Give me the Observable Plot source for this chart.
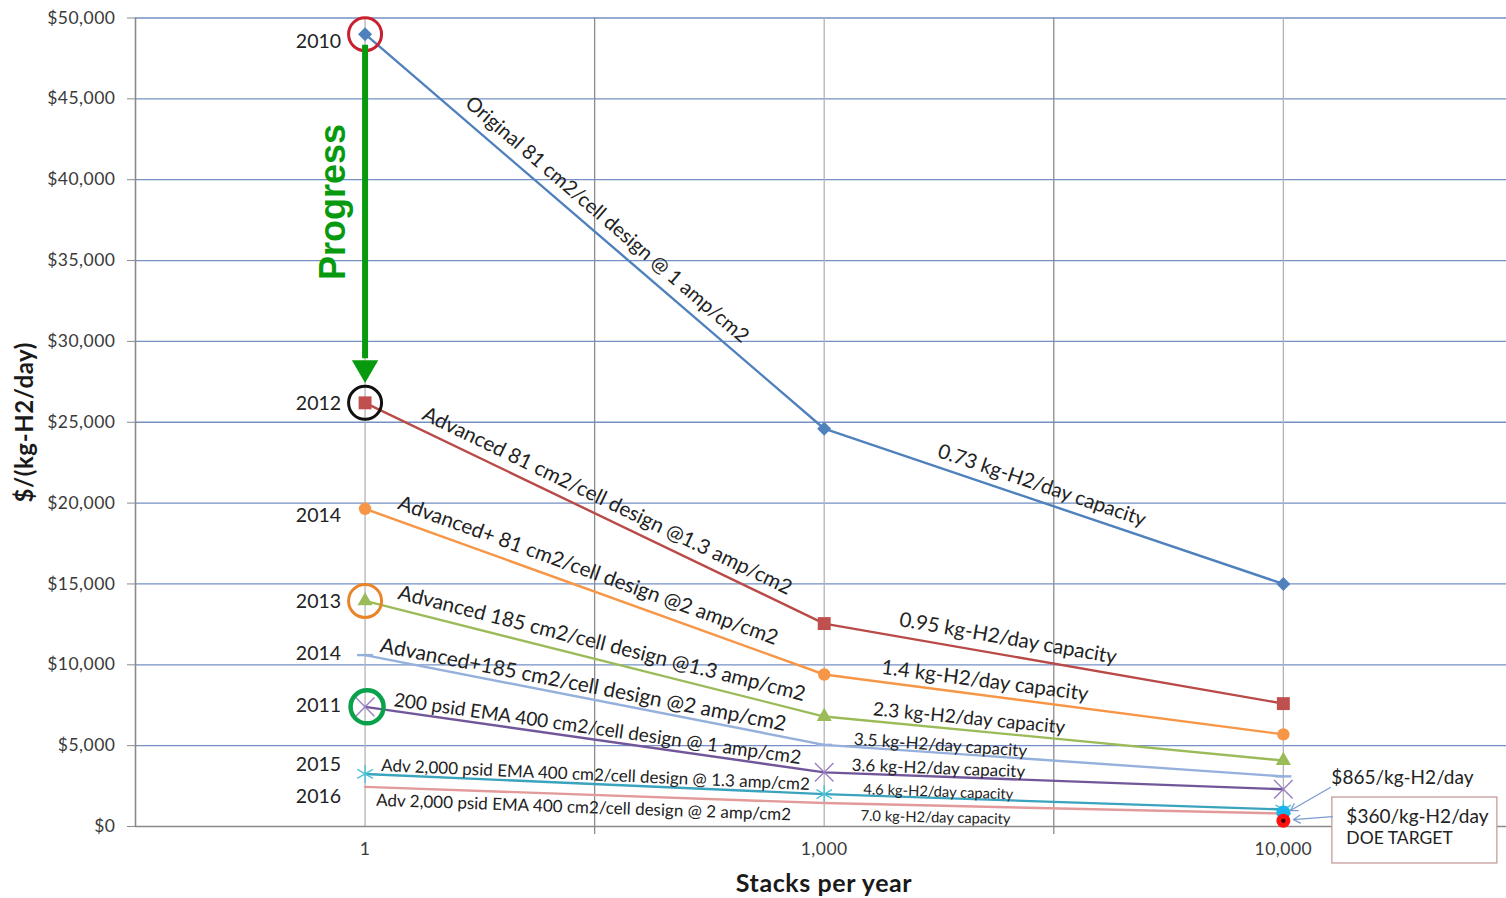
<!DOCTYPE html>
<html>
<head>
<meta charset="utf-8">
<script src="https://cdn.jsdelivr.net/npm/d3@7"></script>
<script src="https://cdn.jsdelivr.net/npm/@observablehq/plot@0.6"></script>
<style>
  html, body { margin: 0; padding: 0; background: #fff; }
  #chart { position: absolute; left: 0; top: 0; }
  #chart svg { overflow: visible; }
</style>
</head>
<body>
<div id="chart"></div>
<script>
// Production volumes (categories on the x axis)
const stackLabels = ["1", "1,000", "10,000"];

// Stack designs, the year each was reached, and the capacity of each stack
const seriesNames = [
  "Original 81 cm2/cell design @ 1 amp/cm2",
  "Advanced 81 cm2/cell design @1.3 amp/cm2",
  "Advanced+ 81 cm2/cell design @2 amp/cm2",
  "Advanced 185 cm2/cell design @1.3 amp/cm2",
  "Advanced+185 cm2/cell design @2 amp/cm2",
  "200 psid EMA 400 cm2/cell design @ 1 amp/cm2",
  "Adv 2,000 psid EMA 400 cm2/cell design @ 1.3 amp/cm2",
  "Adv 2,000 psid EMA 400 cm2/cell design @ 2 amp/cm2"
];
const seriesYears = ["2010", "2012", "2014", "2013", "2014", "2011", "2015", "2016"];
const capacityLabels = [
  "0.73 kg-H2/day capacity",
  "0.95 kg-H2/day capacity",
  "1.4 kg-H2/day capacity",
  "2.3 kg-H2/day capacity",
  "3.5 kg-H2/day capacity",
  "3.6 kg-H2/day capacity",
  "4.6 kg-H2/day capacity",
  "7.0 kg-H2/day capacity"
];

// Stack cost, $/(kg-H2/day), at 1 / 1,000 / 10,000 stacks per year
const costOriginal81      = [49000, 24600, 15000];
const costAdvanced81      = [26200, 12550, 7600];
const costAdvancedPlus81  = [19650, 9400, 5700];
const costAdvanced185     = [13950, 6800, 4080];
const costAdvancedPlus185 = [10600, 5050, 3100];
const costEma200          = [7400, 3350, 2300];
const costEma2000Mid      = [3250, 2000, 1050];
const costEma2000High     = [2450, 1450, 800];

// Highlighted values at 10,000 stacks per year
const highlightValues = [865, 360];
const highlightTexts = ["$865/kg-H2/day", "$360/kg-H2/day", "DOE TARGET"];

const yTicks = [0, 5000, 10000, 15000, 20000, 25000, 30000, 35000, 40000, 45000, 50000];

// ---- styling ----
const costs = [costOriginal81, costAdvanced81, costAdvancedPlus81, costAdvanced185,
               costAdvancedPlus185, costEma200, costEma2000Mid, costEma2000High];
const looks = [
  {stroke: "#4f81bd", symbol: "diamond2", r: 6.3, fill: "#4f81bd"},
  {stroke: "#b94a48", symbol: "square",   r: 7.3, fill: "#c0504d"},
  {stroke: "#f79646", symbol: "circle",   r: 6.2, fill: "#f79646"},
  {stroke: "#9bbb59", symbol: "triangle", r: 5.6, fill: "#9bbb59"},
  {stroke: "#95b0dc", symbol: "dash"},
  {stroke: "#71569a", symbol: "times",    r: 8.5, markStroke: "#9a7fc4"},
  {stroke: "#3aa3bd", symbol: "asterisk", r: 8.5, markStroke: "#4bc3d6"},
  {stroke: "#e39a9a", symbol: null}
];
const series = seriesNames.map((name, k) => ({
  name, year: seriesYears[k], capacity: capacityLabels[k], cost: costs[k], ...looks[k]
}));

// pixel frame of the plot area
const X = d3.scaleLinear([-0.5, 2.486], [135, 1506]);
const Y = d3.scaleLinear([0, 50000], [826, 17.5]);
const px = (i, dx) => X.invert(X(i) + dx);
const py = (v, dy) => Y.invert(Y(v) + dy);

// label placement along each segment: [t along segment, offset from line (px), font size]
const lineLabelLayout = [
  [[0.503, 17, 20], [0.463, 16, 20.2]],
  [[0.512, 16.5, 20.6], [0.394, 17, 20.4]],
  [[0.473, 17.5, 20.6], [0.346, 14.5, 20.4]],
  [[0.507, 16.5, 20.6], [0.313, 12, 18.9]],
  [[0.470, 12.5, 20.8], [0.252, 7.5, 17]],
  [[0.503, 11, 19], [0.248, 8, 17]],
  [[0.501, 9, 17], [0.248, 6, 14.7]],
  [[0.477, -13, 17], [0.243, -12, 14.7]]
];
const lineLabels = [];
series.forEach((s, k) => {
  [0, 1].forEach(seg => {
    const [t, off, size] = lineLabelLayout[k][seg];
    const x0 = X(seg), y0 = Y(s.cost[seg]), x1 = X(seg + 1), y1 = Y(s.cost[seg + 1]);
    const a = Math.atan2(y1 - y0, x1 - x0);
    const lx = x0 + t * (x1 - x0) + off * Math.sin(a);
    const ly = y0 + t * (y1 - y0) - off * Math.cos(a);
    lineLabels.push({x: X.invert(lx), y: Y.invert(ly), text: seg === 0 ? s.name : s.capacity,
                     rotate: a * 180 / Math.PI, size});
  });
});

// year labels beside the first point of each series
const yearShift = [8, 1, 7, 1, -1, -1, -9, 10];
const yearLabels = series.map((s, k) => ({x: px(0, -24), y: py(s.cost[0], yearShift[k]), text: s.year}));

// rings drawn round selected starting points
const rings = [
  {k: 0, stroke: "#c8202e", w: 3},
  {k: 1, stroke: "#111111", w: 3},
  {k: 3, stroke: "#e8852a", w: 3},
  {k: 5, stroke: "#0aa14b", w: 4.5}
].map(d => ({x: px(0, d.k === 5 ? 2 : 0), y: costs[d.k][0], stroke: d.stroke, w: d.w}));

const marks = [];

// gridlines
marks.push(Plot.ruleY(yTicks.filter(d => d > 0), {stroke: "#7590c4", strokeWidth: 1.3}));
marks.push(Plot.ruleX([0, 1, 2], {y1: 0, y2: 50000, stroke: "#b4b4b4", strokeWidth: 1.3}));
marks.push(Plot.ruleX([0.5, 1.5], {y1: py(0, 8), y2: 50000, stroke: "#8c8c8c", strokeWidth: 1.3}));

// axes lines
marks.push(Plot.ruleX([-0.5], {y1: 0, y2: 50000, stroke: "#8a8a8a", strokeWidth: 1.6}));
marks.push(Plot.ruleY([0], {x1: -0.5, x2: 2.486, stroke: "#8a8a8a", strokeWidth: 1.6}));
marks.push(Plot.axisY(yTicks, {
  tickSize: 8, tickPadding: 12, stroke: "#8a8a8a", fill: "#3a3a3a", fontSize: 17.5,
  tickFormat: d => "$" + d3.format(",")(d), label: null
}));
marks.push(Plot.axisX([0, 1, 2], {
  tickSize: 0, tickPadding: 16, fill: "#3a3a3a", fontSize: 17.5,
  tickFormat: i => stackLabels[i], label: null
}));

// series lines and markers
series.forEach(s => {
  const pts = s.cost.map((v, i) => ({i, v}));
  marks.push(Plot.line(pts, {x: "i", y: "v", stroke: s.stroke, strokeWidth: 2.4}));
  if (s.symbol === "dash") {
    marks.push(Plot.link(pts, {x1: d => px(d.i, -8), x2: d => px(d.i, 8), y1: "v", y2: "v",
                               stroke: s.stroke, strokeWidth: 2.4}));
  } else if (s.symbol === "times" || s.symbol === "asterisk") {
    marks.push(Plot.dot(pts, {x: "i", y: "v", symbol: s.symbol, r: s.r, stroke: s.markStroke, strokeWidth: 1.4}));
  } else if (s.symbol) {
    marks.push(Plot.dot(pts, {x: "i", y: "v", symbol: s.symbol, r: s.r, fill: s.fill, stroke: "none"}));
  }
});

// highlighted end values
marks.push(Plot.dot([highlightValues[0]], {x: 2, y: d => d, r: 7, fill: "#16b4ea"}));
marks.push(Plot.dot([highlightValues[1]], {x: 2, y: d => d, r: 7, fill: "#ff1010"}));
marks.push(Plot.dot([highlightValues[1]], {x: 2, y: d => d, r: 2.2, fill: "#3a0000"}));

// rings and progress arrow
const arrowTop = py(costOriginal81[0], 11);
const arrowBottom = py(costAdvanced81[0], -44);
marks.push(Plot.dot(rings, {x: "x", y: "y", r: 16.5, stroke: "stroke", strokeWidth: "w", fill: "none"}));
marks.push(Plot.ruleX([0], {y1: arrowTop, y2: arrowBottom, stroke: "#079a0e", strokeWidth: 6}));
marks.push(Plot.dot([0], {x: 0, y: py(costAdvanced81[0], -35), symbol: "triangle", rotate: 180, r: 9.8, fill: "#079a0e"}));
marks.push(Plot.text(["Progress"], {
  x: px(0, -31.5), y: (arrowTop + arrowBottom) / 2,
  rotate: -90, fontSize: 36, fontWeight: "bold", fontFamily: "Liberation Sans, Arial, sans-serif", fill: "#079a0e"
}));

// labels
marks.push(Plot.text(yearLabels, {x: "x", y: "y", text: "text", textAnchor: "end", fontSize: 19.5, fill: "#222"}));
marks.push(Plot.text(lineLabels, {x: "x", y: "y", text: "text", rotate: "rotate", fontSize: "size", fill: "#222"}));

// callouts at 10,000 stacks per year
marks.push(Plot.rect([0], {x1: px(2, 49), x2: px(2, 214), y1: py(0, 37), y2: py(0, -29),
                           fill: "white", stroke: "#c79d9b", strokeWidth: 1.3}));
marks.push(Plot.arrow([0], {x1: px(2, 47), y1: py(highlightValues[0], -25), x2: px(2, 7), y2: py(highlightValues[0], -2),
                            stroke: "#7b9ccf", strokeWidth: 1.3, headLength: 9}));
marks.push(Plot.arrow([0], {x1: px(2, 49), y1: py(highlightValues[1], -4), x2: px(2, 10), y2: py(highlightValues[1], -1),
                            stroke: "#7b9ccf", strokeWidth: 1.3, headLength: 9}));
marks.push(Plot.text([highlightTexts[0]], {x: px(2, 48), y: py(0, -49), textAnchor: "start", fontSize: 19, fill: "#222"}));
marks.push(Plot.text([highlightTexts[1]], {x: px(2, 63), y: py(0, -10), textAnchor: "start", fontSize: 19, fill: "#222"}));
marks.push(Plot.text([highlightTexts[2]], {x: px(2, 63), y: py(0, 12), textAnchor: "start", fontSize: 17.5, fill: "#222"}));

// axis titles
marks.push(Plot.text(["Stacks per year"], {frameAnchor: "bottom", textAnchor: "middle", lineAnchor: "middle",
                                           dx: 3, dy: 57, fontSize: 25, fontWeight: "bold", fill: "#1a1a1a"}));
marks.push(Plot.text(["$/(kg-H2/day)"], {frameAnchor: "left", textAnchor: "middle", lineAnchor: "middle",
                                         dx: -110, rotate: -90, fontSize: 24, fontWeight: "bold", fill: "#1a1a1a"}));

const chart = Plot.plot({
  width: 1506,
  height: 898,
  marginLeft: 135,
  marginRight: 0,
  marginTop: 17.5,
  marginBottom: 72,
  style: {fontFamily: "Lato, 'Open Sans', sans-serif", fontSize: "16px", background: "#fff", overflow: "visible"},
  x: {type: "linear", domain: X.domain(), range: X.range(), axis: null},
  y: {type: "linear", domain: Y.domain(), range: Y.range(), axis: null},
  marks
});

// slightly looser tracking on axis text
d3.select(chart).selectAll("g[aria-label='y-axis tick label'] text, g[aria-label='x-axis tick label'] text")
  .style("letter-spacing", "0.5px");
d3.select(chart).selectAll("text")
  .filter(function() { return this.textContent === "Stacks per year" || this.textContent === "$/(kg-H2/day)"; })
  .style("letter-spacing", "0.6px");

document.getElementById("chart").appendChild(chart);
</script>
</body>
</html>
